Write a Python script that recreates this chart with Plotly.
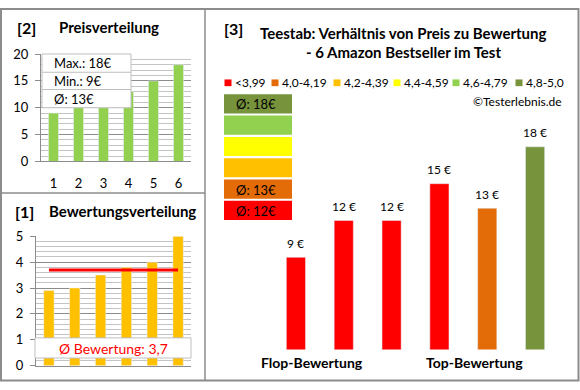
import plotly.graph_objects as go

# ---------------- data ----------------
price_cats = [1, 2, 3, 4, 5, 6]
price_values = [9, 12, 12, 13, 15, 18]          # [2] Preisverteilung
rating_cats = [1, 2, 3, 4, 5, 6]
rating_values = [2.9, 3.0, 3.5, 3.8, 4.0, 5.0]  # [1] Bewertungsverteilung
rating_avg = 3.7
test_cats = [1, 2, 3, 4, 5, 6]
test_prices = [9, 12, 12, 15, 13, 18]            # [3] products sorted by rating
test_ratings = [2.9, 3.0, 3.5, 3.8, 4.0, 5.0]
legend_labels = ["<3,99", "4,0-4,19", "4,2-4,39", "4,4-4,59", "4,6-4,79", "4,8-5,0"]
legend_lows = [0.0, 4.0, 4.2, 4.4, 4.6, 4.8]
legend_colors = ["#FF0000", "#E36C09", "#FFC000", "#FFFF00", "#92D050", "#77933C"]
price_max, price_min, price_avg = 18, 9, 13

FONT = "Lato, 'Open Sans', sans-serif"
W, H = 580, 390
GRAY = "#8c8c8c"


def px(x):
    return x / W


def py(y):
    return 1 - y / H


def rating_bin(r):
    idx = 0
    for i, lo in enumerate(legend_lows):
        if r >= lo:
            idx = i
    return idx


bar_colors = [legend_colors[rating_bin(r)] for r in test_ratings]

fig = go.Figure()

# [2] Preisverteilung
fig.add_trace(go.Bar(x=price_cats, y=price_values, marker_color="#92D050", width=0.4,
                     xaxis="x", yaxis="y", showlegend=False, hoverinfo="skip"))
# [1] Bewertungsverteilung
fig.add_trace(go.Bar(x=rating_cats, y=rating_values, marker_color="#FFC000", width=0.4,
                     xaxis="x2", yaxis="y2", showlegend=False, hoverinfo="skip"))
fig.add_trace(go.Scatter(x=[rating_cats[0], rating_cats[-1]], y=[rating_avg, rating_avg],
                         mode="lines", line=dict(color="#FF0000", width=3),
                         xaxis="x2", yaxis="y2", showlegend=False, hoverinfo="skip"))
# [3] Verhältnis Preis / Bewertung
fig.add_trace(go.Bar(x=test_cats, y=test_prices, marker_color=bar_colors, width=0.4,
                     xaxis="x3", yaxis="y3", showlegend=False, hoverinfo="skip"))

annotations = []
shapes = []

for xv, pv in zip(test_cats, test_prices):
    annotations.append(dict(x=xv, y=pv, xref="x3", yref="y3", text=f"{pv} €",
                            showarrow=False, yshift=14, font=dict(size=12, color="black")))

# panel borders
shapes.append(dict(type="rect", xref="paper", yref="paper", x0=px(1), x1=px(578.5),
                   y0=py(388.5), y1=py(1), line=dict(color=GRAY, width=2)))
shapes.append(dict(type="line", xref="paper", yref="paper", x0=px(205), x1=px(205),
                   y0=py(0), y1=py(389), line=dict(color=GRAY, width=1.5)))
shapes.append(dict(type="line", xref="paper", yref="paper", x0=px(0), x1=px(205),
                   y0=py(193), y1=py(193), line=dict(color=GRAY, width=1.5)))

# titles
tfont = dict(size=15, color="black", family=FONT)
bfont = dict(size=16, color="black", family=FONT)
annotations += [
    dict(x=px(15), y=py(20), xref="paper", yref="paper", text="<b>[2]</b>", showarrow=False,
         xanchor="left", yanchor="middle", font=bfont),
    dict(x=px(57), y=py(20), xref="paper", yref="paper", text="<b>Preisverteilung</b>",
         showarrow=False, xanchor="left", yanchor="middle", font=tfont),
    dict(x=px(13), y=py(212), xref="paper", yref="paper", text="<b>[1]</b>", showarrow=False,
         xanchor="left", yanchor="middle", font=bfont),
    dict(x=px(47), y=py(212), xref="paper", yref="paper", text="<b>Bewertungsverteilung</b>",
         showarrow=False, xanchor="left", yanchor="middle", font=tfont),
    dict(x=px(222), y=py(21), xref="paper", yref="paper", text="<b>[3]</b>", showarrow=False,
         xanchor="left", yanchor="middle", font=bfont),
    dict(x=px(404), y=py(26), xref="paper", yref="paper",
         text="<b>Teestab: Verhältnis von Preis zu Bewertung</b>", showarrow=False,
         xanchor="center", yanchor="middle", font=tfont),
    dict(x=px(404), y=py(46), xref="paper", yref="paper",
         text="<b>- 6 Amazon Bestseller im Test</b>", showarrow=False,
         xanchor="center", yanchor="middle", font=tfont),
]

# stats box in [2]
box_rows = [f"Max.: {price_max}€", f"Min.: {price_min}€", f"Ø: {price_avg}€"]
row_tops = [48, 67, 85, 104]
shapes.append(dict(type="rect", xref="paper", yref="paper", x0=px(42), x1=px(131),
                   y0=py(104), y1=py(48), fillcolor="white", line=dict(color="#bfbfbf", width=1),
                   layer="above"))
for i, txt in enumerate(box_rows):
    if i > 0:
        shapes.append(dict(type="line", xref="paper", yref="paper", x0=px(42), x1=px(131),
                           y0=py(row_tops[i]), y1=py(row_tops[i]),
                           line=dict(color="#bfbfbf", width=1), layer="above"))
    annotations.append(dict(x=px(52), y=py((row_tops[i] + row_tops[i + 1]) / 2),
                            xref="paper", yref="paper", text=txt, showarrow=False,
                            xanchor="left", yanchor="middle",
                            font=dict(size=13, color="black")))

# rating box in [1]
shapes.append(dict(type="rect", xref="paper", yref="paper", x0=px(35), x1=px(191),
                   y0=py(365), y1=py(344), fillcolor="white", line=dict(color="#bfbfbf", width=1),
                   layer="above"))
annotations.append(dict(x=px(113), y=py(355), xref="paper", yref="paper",
                        text=f"Ø Bewertung: {str(rating_avg).replace('.', ',')}",
                        showarrow=False, xanchor="center", yanchor="middle",
                        font=dict(size=14, color="#FF0000")))

# legend row in [3]
legend_x = [228, 275, 337, 397, 456, 519]
for lx, lab, col in zip(legend_x, legend_labels, legend_colors):
    shapes.append(dict(type="rect", xref="paper", yref="paper", x0=px(lx - 3.5), x1=px(lx + 3.5),
                       y0=py(81.5), y1=py(74.5), fillcolor=col, line=dict(width=0)))
    annotations.append(dict(x=px(lx + 5), y=py(78), xref="paper", yref="paper", text=lab,
                            showarrow=False, xanchor="left", yanchor="middle",
                            font=dict(size=12, color="black")))

annotations.append(dict(x=px(564), y=py(98), xref="paper", yref="paper", text="©Testerlebnis.de",
                        showarrow=False, xanchor="right", yanchor="middle",
                        font=dict(size=12, color="black")))

# group average boxes (top: best group)
for k, gi in enumerate(reversed(range(len(legend_labels)))):
    top = 90 + k * 22.2
    shapes.append(dict(type="rect", xref="paper", yref="paper", x0=px(224), x1=px(292),
                       y0=py(top + 20), y1=py(top), fillcolor=legend_colors[gi], line=dict(width=0)))
    prices = [p for p, r in zip(test_prices, test_ratings) if rating_bin(r) == gi]
    if prices:
        avg = round(sum(prices) / len(prices))
        annotations.append(dict(x=px(234), y=py(top + 10.5), xref="paper", yref="paper",
                                text=f"Ø: {avg}€", showarrow=False, xanchor="left",
                                yanchor="middle", font=dict(size=13, color="black")))

annotations += [
    dict(x=px(312), y=py(370), xref="paper", yref="paper", text="<b>Flop-Bewertung</b>",
         showarrow=False, xanchor="center", yanchor="middle", font=dict(size=14, color="black")),
    dict(x=px(474), y=py(370), xref="paper", yref="paper", text="<b>Top-Bewertung</b>",
         showarrow=False, xanchor="center", yanchor="middle", font=dict(size=14, color="black")),
]

axis_common = dict(showline=True, linecolor=GRAY, linewidth=1, zeroline=False, fixedrange=True)

fig.update_layout(
    width=W, height=H, margin=dict(l=0, r=0, t=0, b=0),
    paper_bgcolor="white", plot_bgcolor="white",
    font=dict(family=FONT, size=12, color="black"),
    bargap=0.6,
    xaxis=dict(domain=[px(41), px(191)], range=[0.5, 6.5], anchor="y", tickvals=price_cats,
               ticks="", showgrid=False, ticklabelstandoff=10, tickfont=dict(size=13), **axis_common),
    yaxis=dict(domain=[py(160), py(48)], range=[0, 20], anchor="x", dtick=5, showgrid=True,
               gridcolor="#8c8c8c", minor=dict(dtick=1, showgrid=True, gridcolor="#c4c4c4"),
               ticks="outside", ticklen=5, tickcolor=GRAY, ticklabelstandoff=4,
               tickfont=dict(size=13), **axis_common),
    xaxis2=dict(domain=[px(36), px(191)], range=[0.5, 6.5], anchor="y2", showticklabels=False,
                ticks="", showgrid=False, **axis_common),
    yaxis2=dict(domain=[py(373), py(238)], range=[0, 5], anchor="x2", dtick=1, showgrid=True,
                gridcolor="#8c8c8c", minor=dict(dtick=0.2, showgrid=True, gridcolor="#c4c4c4"),
                ticks="outside", ticklen=5, tickcolor=GRAY, ticklabelstandoff=4,
                tickfont=dict(size=13), **axis_common),
    xaxis3=dict(domain=[px(272), px(559)], range=[0.5, 6.5], anchor="y3", visible=False),
    yaxis3=dict(domain=[py(356), py(100)], range=[1.5, 21.5], anchor="x3", visible=False),
    annotations=annotations,
    shapes=shapes,
)

fig.write_html("out.html", config={"displayModeBar": False},
               post_script="document.body.style.margin='0';document.body.style.padding='0';")
